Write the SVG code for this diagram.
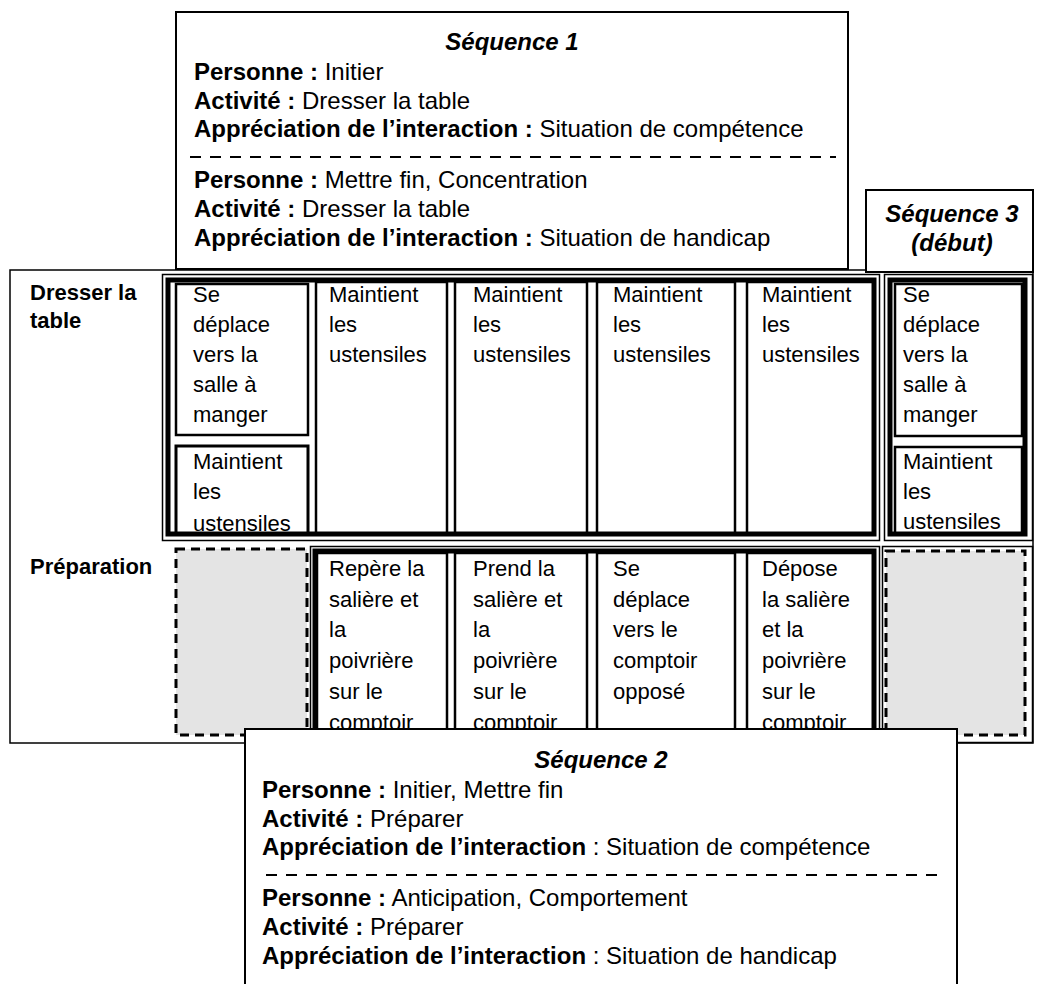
<svg xmlns="http://www.w3.org/2000/svg" width="1040" height="984" viewBox="0 0 1040 984">
<style>
text { font-family: "Liberation Sans", Arial, sans-serif; fill: #000; }
.seq { font-size: 24px; }
.title { font-size: 24px; font-weight: bold; font-style: italic; }
.b { font-weight: bold; }
.cell { font-size: 22px; }
.lbl { font-size: 22px; font-weight: bold; }
.thin { fill: none; stroke: #000; stroke-width: 1.5; }
.thick { fill: none; stroke: #000; stroke-width: 5; }
.cb { fill: none; stroke: #000; stroke-width: 2.5; }
.gray { fill: #e4e4e4; stroke: #000; stroke-width: 3; stroke-dasharray: 9 6; }
.box { fill: #fff; stroke: #000; stroke-width: 2; }
.dash { fill: none; stroke: #000; stroke-width: 2; stroke-dasharray: 11 9; }
</style>
<rect x="0" y="0" width="1040" height="984" fill="#fff"/>

<g id="frame">
  <rect x="10" y="270" width="1023" height="473" fill="#fff" stroke="#000" stroke-width="1.5"/>
  <text class="lbl" x="30" y="300">Dresser la</text>
  <text class="lbl" x="30" y="328">table</text>
  <text class="lbl" x="30" y="574">Préparation</text>
</g>

<g id="row-dresser-seq1">
  <rect class="thin" x="162.5" y="274.5" width="717" height="266"/>
  <rect class="thick" x="168" y="280" width="706" height="254"/>
  <g id="d-c1a">
    <rect class="cb" x="176" y="284" width="132" height="151"/>
    <text class="cell" x="193" y="302">Se</text>
    <text class="cell" x="193" y="332">déplace</text>
    <text class="cell" x="193" y="362">vers la</text>
    <text class="cell" x="193" y="392">salle à</text>
    <text class="cell" x="193" y="422">manger</text>
  </g>
  <g id="d-c1b">
    <text class="cell" x="193" y="469">Maintient</text>
    <text class="cell" x="193" y="499">les</text>
    <text class="cell" x="193" y="531">ustensiles</text>
    <rect fill="none" stroke="#000" stroke-width="3" x="176" y="446" width="132" height="88"/>
  </g>
  <g id="d-c2">
    <rect class="cb" x="316" y="282" width="131" height="252"/>
    <text class="cell" x="329" y="302">Maintient</text>
    <text class="cell" x="329" y="332">les</text>
    <text class="cell" x="329" y="362">ustensiles</text>
  </g>
  <g id="d-c3">
    <rect class="cb" x="455" y="282" width="132" height="252"/>
    <text class="cell" x="473" y="302">Maintient</text>
    <text class="cell" x="473" y="332">les</text>
    <text class="cell" x="473" y="362">ustensiles</text>
  </g>
  <g id="d-c4">
    <rect class="cb" x="597" y="282" width="138" height="252"/>
    <text class="cell" x="613" y="302">Maintient</text>
    <text class="cell" x="613" y="332">les</text>
    <text class="cell" x="613" y="362">ustensiles</text>
  </g>
  <g id="d-c5">
    <rect class="cb" x="747" y="282" width="127" height="252"/>
    <text class="cell" x="762" y="302">Maintient</text>
    <text class="cell" x="762" y="332">les</text>
    <text class="cell" x="762" y="362">ustensiles</text>
  </g>
</g>

<g id="row-dresser-seq3">
  <rect class="thin" x="884.5" y="274.5" width="148" height="266"/>
  <rect class="thick" x="890" y="280" width="135" height="254"/>
  <g id="d-s3a">
    <rect class="cb" x="895" y="284" width="127" height="152"/>
    <text class="cell" x="903" y="302">Se</text>
    <text class="cell" x="903" y="332">déplace</text>
    <text class="cell" x="903" y="362">vers la</text>
    <text class="cell" x="903" y="392">salle à</text>
    <text class="cell" x="903" y="422">manger</text>
  </g>
  <g id="d-s3b">
    <rect class="cb" x="895" y="447" width="127" height="87"/>
    <text class="cell" x="903" y="469">Maintient</text>
    <text class="cell" x="903" y="499">les</text>
    <text class="cell" x="903" y="529">ustensiles</text>
  </g>
</g>

<g id="row-prep">
  <g id="p-c1">
    <rect class="gray" x="176" y="549" width="131" height="186"/>
  </g>
  <rect class="thin" x="310.5" y="546.5" width="569" height="196"/>
  <rect class="thick" x="315" y="551" width="559" height="190"/>
  <g id="p-c2">
    <rect class="cb" x="317" y="553" width="130" height="186"/>
    <text class="cell" x="329" y="576">Repère la</text>
    <text class="cell" x="329" y="607">salière et</text>
    <text class="cell" x="329" y="637">la</text>
    <text class="cell" x="329" y="668">poivrière</text>
    <text class="cell" x="329" y="699">sur le</text>
    <text class="cell" x="329" y="730">comptoir</text>
  </g>
  <g id="p-c3">
    <rect class="cb" x="455" y="553" width="132" height="186"/>
    <text class="cell" x="473" y="576">Prend la</text>
    <text class="cell" x="473" y="607">salière et</text>
    <text class="cell" x="473" y="637">la</text>
    <text class="cell" x="473" y="668">poivrière</text>
    <text class="cell" x="473" y="699">sur le</text>
    <text class="cell" x="473" y="730">comptoir</text>
  </g>
  <g id="p-c4">
    <rect class="cb" x="597" y="553" width="138" height="186"/>
    <text class="cell" x="613" y="576">Se</text>
    <text class="cell" x="613" y="607">déplace</text>
    <text class="cell" x="613" y="637">vers le</text>
    <text class="cell" x="613" y="668">comptoir</text>
    <text class="cell" x="613" y="699">opposé</text>
  </g>
  <g id="p-c5">
    <rect class="cb" x="747" y="553" width="127" height="186"/>
    <text class="cell" x="762" y="576">Dépose</text>
    <text class="cell" x="762" y="607">la salière</text>
    <text class="cell" x="762" y="637">et la</text>
    <text class="cell" x="762" y="668">poivrière</text>
    <text class="cell" x="762" y="699">sur le</text>
    <text class="cell" x="762" y="730">comptoir</text>
  </g>
  <g id="p-s3">
    <rect class="thin" x="882.5" y="546.5" width="150" height="196"/>
    <rect class="gray" x="886" y="551" width="139" height="184"/>
  </g>
</g>

<g id="seq1">
  <rect class="box" x="176" y="12" width="672" height="257"/>
  <text class="title" x="512" y="50" text-anchor="middle">Séquence 1</text>
  <text class="seq" x="194" y="80"><tspan class="b">Personne :</tspan> Initier</text>
  <text class="seq" x="194" y="109"><tspan class="b">Activité :</tspan> Dresser la table</text>
  <text class="seq" x="194" y="137"><tspan class="b">Appréciation de l’interaction :</tspan> Situation de compétence</text>
  <line class="dash" x1="190" y1="157" x2="836" y2="157"/>
  <text class="seq" x="194" y="188"><tspan class="b">Personne :</tspan> Mettre fin, Concentration</text>
  <text class="seq" x="194" y="217"><tspan class="b">Activité :</tspan> Dresser la table</text>
  <text class="seq" x="194" y="246"><tspan class="b">Appréciation de l’interaction :</tspan> Situation de handicap</text>
</g>

<g id="seq3">
  <rect class="box" x="866" y="190" width="167" height="82"/>
  <text class="title" x="952" y="222" text-anchor="middle">Séquence 3</text>
  <text class="title" x="952" y="251" text-anchor="middle">(début)</text>
</g>

<g id="seq2">
  <rect class="box" x="245" y="729" width="712" height="270"/>
  <text class="title" x="601" y="768" text-anchor="middle">Séquence 2</text>
  <text class="seq" x="262" y="798"><tspan class="b">Personne :</tspan> Initier, Mettre fin</text>
  <text class="seq" x="262" y="827"><tspan class="b">Activité :</tspan> Préparer</text>
  <text class="seq" x="262" y="855"><tspan class="b">Appréciation de l’interaction</tspan> : Situation de compétence</text>
  <line class="dash" x1="266" y1="875" x2="940" y2="875"/>
  <text class="seq" x="262" y="906"><tspan class="b">Personne :</tspan> Anticipation, Comportement</text>
  <text class="seq" x="262" y="935"><tspan class="b">Activité :</tspan> Préparer</text>
  <text class="seq" x="262" y="964"><tspan class="b">Appréciation de l’interaction</tspan> : Situation de handicap</text>
</g>

<g id="connectors"></g>
</svg>
